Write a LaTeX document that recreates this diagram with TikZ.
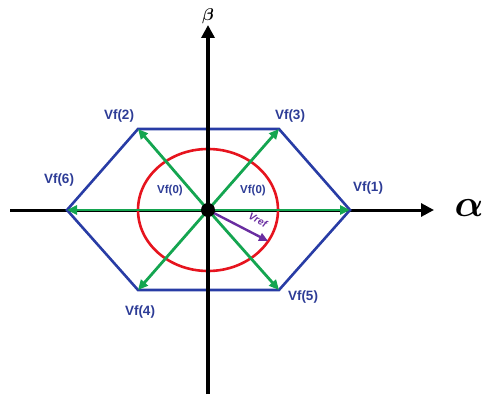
\documentclass[tikz,border=0pt]{standalone}
\usepackage{fontspec}
\setsansfont{Liberation Sans}
\usetikzlibrary{arrows.meta}
\definecolor{hexblue}{RGB}{40,60,165}
\definecolor{vecgreen}{RGB}{20,165,80}
\definecolor{circred}{RGB}{230,20,30}
\definecolor{refpurple}{RGB}{105,45,160}
\definecolor{labblue}{RGB}{45,60,150}
\tikzset{
  axis/.style={line width=3pt, -{Triangle[length=13pt,width=13pt]}},
  hexline/.style={draw=hexblue, line width=2.6pt, line join=miter},
  limit/.style={draw=circred, line width=2.6pt},
  vec/.style={draw=vecgreen, line width=2.8pt, -{Triangle[length=10pt,width=9pt]}},
  reflab/.style={font=\sffamily\itshape\bfseries\fontsize{10}{10}\selectfont, text=refpurple, inner sep=1pt},
  vlabel/.style={font=\sffamily\bfseries\fontsize{13.5}{13.5}\selectfont, text=labblue},
  zlabel/.style={font=\sffamily\bfseries\fontsize{11.5}{11.5}\selectfont, text=labblue},
  axlabel/.style={font=\boldmath},
}
\begin{document}
\begin{tikzpicture}[x=1pt, y=-1pt]
\useasboundingbox (0,0) rectangle (485,396);

%% axes
\coordinate (xs) at (10,210);
\coordinate (xe) at (434,210);
\coordinate (ys) at (208,394);
\coordinate (ye) at (208,25);
\draw[axis] (xs) -- (xe);
\node[axlabel, scale=3.8] (alab) at (469,208) {$\alpha$};
\node[axlabel, scale=1.7] (blab) at (208,16) {$\beta$};

%% hexagon corners
\coordinate (o) at (208,210);
\coordinate (v1) at (350,210);
\coordinate (v3) at (279,129);
\coordinate (v2) at (138,129);
\coordinate (v6) at (67,210);
\coordinate (v4) at (138,290);
\coordinate (v5) at (279,290);

\draw[hexline] (v1) -- (v3) -- (v2) -- (v6) -- (v4) -- (v5) -- cycle;

%% circle limit
\draw[limit] (o) ellipse [x radius=70, y radius=61];

%% switching vectors
\draw[vec] (o) -- (v1);
\draw[vec] (o) -- (v2);
\draw[vec] (o) -- (v3);
\draw[vec] (o) -- (v4);
\draw[vec] (o) -- (v5);
\draw[vec] (o) -- (v6);

\draw[axis, line width=3.8pt] (ys) -- (ye);

%% reference vector
\coordinate (vr) at (268,241);
\draw[draw=refpurple, line width=2.4pt, -{Triangle[length=9pt,width=8pt]}] (o) -- (vr);
\node[reflab, rotate=-27] (vreflab) at (258,220) {Vref};

\fill[black] (o) circle [radius=7];

%% labels
\node[vlabel] (l1) at (368,188) {Vf(1)};
\node[vlabel] (l2) at (119,116) {Vf(2)};
\node[vlabel] (l3) at (290,116) {Vf(3)};
\node[vlabel] (l4) at (140,312) {Vf(4)};
\node[vlabel] (l5) at (303,297) {Vf(5)};
\node[vlabel] (l6) at (59,180) {Vf(6)};
\node[zlabel] (z1) at (170,191) {Vf(0)};
\node[zlabel] (z2) at (253,191) {Vf(0)};

\end{tikzpicture}
\end{document}
